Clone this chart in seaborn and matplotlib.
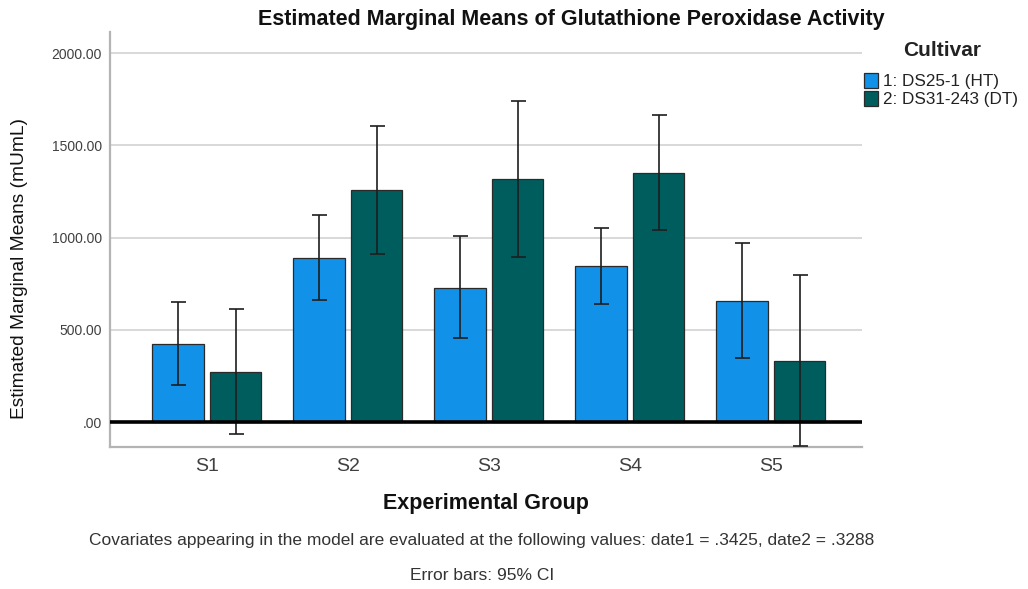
import matplotlib
matplotlib.use("Agg")
import matplotlib.pyplot as plt
import seaborn as sns
import numpy as np
import pandas as pd

# ---- data ----
groups = ["S1", "S2", "S3", "S4", "S5"]
cultivars = ["1: DS25-1 (HT)", "2: DS31-243 (DT)"]
means_ht = [424, 888, 729, 847, 657]
means_dt = [271, 1257, 1320, 1352, 330]
ci_low_ht = [200, 661, 453, 641, 350]
ci_high_ht = [650, 1123, 1009, 1054, 968]
ci_low_dt = [-65, 912, 897, 1042, -132]
ci_high_dt = [612, 1607, 1739, 1663, 796]
ytick_values = [0, 500, 1000, 1500, 2000]
ytick_labels = [".00", "500.00", "1000.00", "1500.00", "2000.00"]

df = pd.DataFrame({
    "group": groups * 2,
    "cultivar": [cultivars[0]] * 5 + [cultivars[1]] * 5,
    "mean": means_ht + means_dt,
})

sns.set_theme(style="white")
plt.rcParams["font.family"] = ["Liberation Sans", "DejaVu Sans"]

W, H = 1028, 589
fig = plt.figure(figsize=(W / 100, H / 100), dpi=100)
ax = fig.add_axes([110 / W, 1 - 447 / H, (862 - 110) / W, (447 - 32) / H])

palette = {cultivars[0]: "#1192e8", cultivars[1]: "#005d5d"}
sns.barplot(data=df, x="group", y="mean", hue="cultivar", order=groups,
            hue_order=cultivars, palette=palette, errorbar=None,
            width=0.82, gap=0.11, edgecolor="#2a2a2a", linewidth=0.9,
            saturation=1, ax=ax, zorder=3)

# error bars
lows = [ci_low_ht, ci_low_dt]
highs = [ci_high_ht, ci_high_dt]
ms = [means_ht, means_dt]
for cont, lo, hi, m in zip(ax.containers, lows, highs, ms):
    xs = [p.get_x() + p.get_width() / 2 for p in cont.patches]
    m = np.array(m, float)
    yerr = [m - np.array(lo), np.array(hi) - m]
    ax.errorbar(xs, m, yerr=yerr, fmt="none", ecolor="#1e1e1e",
                elinewidth=1.2, capsize=5.4, capthick=1.2, zorder=5)

ax.axhline(0, color="black", lw=2.6, zorder=6)

ax.set_xlim(-0.686, 4.647)
ax.set_ylim(-135, 2114)
ax.set_yticks(ytick_values)
ax.set_yticklabels(ytick_labels)
ax.yaxis.grid(True, color="#d6d6d6", lw=1.3, zorder=0)
ax.set_axisbelow(True)
for s in ["top", "right"]:
    ax.spines[s].set_visible(False)
for s in ["left", "bottom"]:
    ax.spines[s].set_color("#b4b4b4")
    ax.spines[s].set_linewidth(1.6)
ax.tick_params(axis="both", length=0)
ax.tick_params(axis="y", labelsize=10, labelcolor="#404040", pad=6)
ax.tick_params(axis="x", labelsize=14, labelcolor="#404040", pad=8)
ax.set_xlabel("")
ax.set_ylabel("")

# legend
sns.move_legend(ax, "upper left", bbox_to_anchor=(857 / W, 1 - 66 / H),
                bbox_transform=fig.transFigure, title=None,
                frameon=False, fontsize=12.3,
                handlelength=0.85, handleheight=0.95, handletextpad=0.25,
                labelspacing=0.12, borderaxespad=0)
leg = ax.get_legend()
for t in leg.get_texts():
    t.set_color("#222222")
fig.text(942 / W, 1 - 51 / H, "Cultivar", ha="center", va="center",
         fontsize=15, fontweight="bold", color="#222222")

fig.text(571 / W, 1 - 19 / H,
         "Estimated Marginal Means of Glutathione Peroxidase Activity",
         ha="center", va="center", fontsize=15.5, fontweight="bold",
         color="#111111")
fig.text(20 / W, 1 - 268 / H, "Estimated Marginal Means (mUmL)",
         rotation=90, ha="center", va="center", fontsize=13.8, color="#111111")
fig.text(486 / W, 1 - 503 / H, "Experimental Group", ha="center",
         va="center", fontsize=15.5, fontweight="bold", color="#111111")
fig.text(482 / W, 1 - 540 / H,
         "Covariates appearing in the model are evaluated at the following "
         "values: date1 = .3425, date2 = .3288",
         ha="center", va="center", fontsize=12.5, color="#333333")
fig.text(482 / W, 1 - 576 / H, "Error bars: 95% CI", ha="center",
         va="center", fontsize=12.5, color="#333333")

fig.savefig("out.png", dpi=100)
